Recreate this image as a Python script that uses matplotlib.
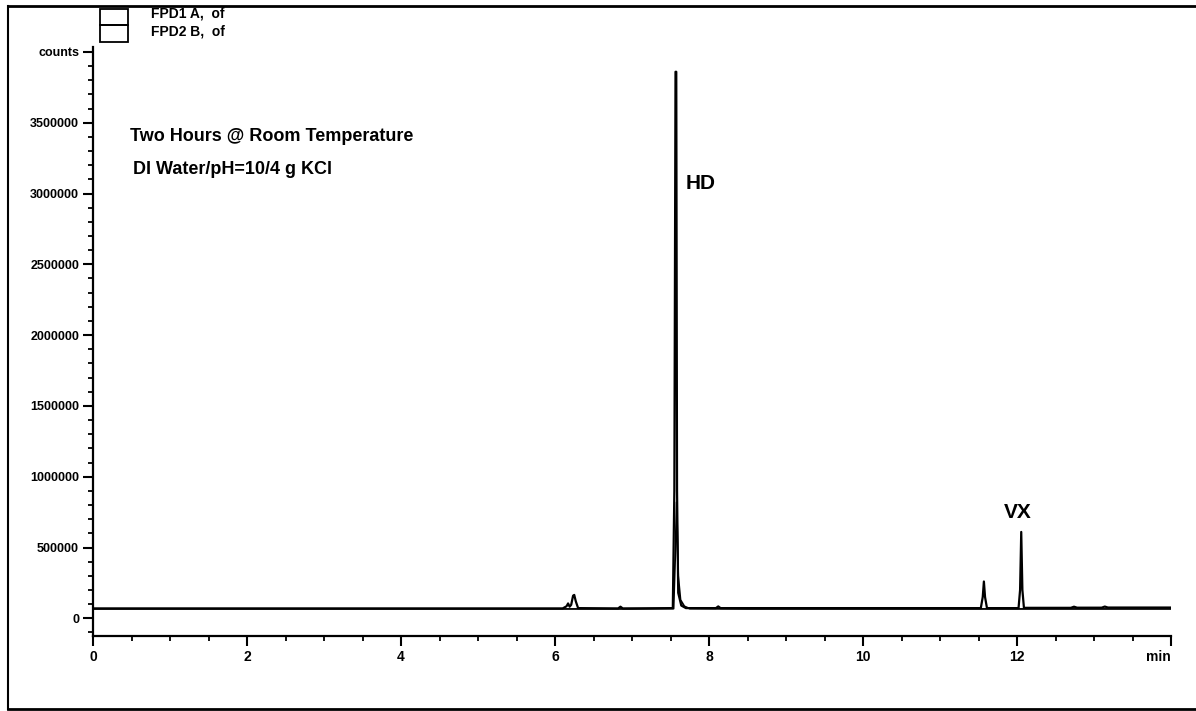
import numpy as np
import matplotlib
matplotlib.use("Agg")
import matplotlib.pyplot as plt
from matplotlib.lines import Line2D
from matplotlib.patches import Rectangle

plt.rcParams['font.family'] = ['Liberation Sans', 'DejaVu Sans']

# FPD1 A trace (time in min, counts)
t_a = [0.00, 2.00, 4.00, 6.10, 6.15, 6.17, 6.19, 6.21, 6.235, 6.25, 6.27, 6.30, 6.82,
       6.85, 6.88, 7.53, 7.55, 7.565, 7.575, 7.585, 7.60, 7.64, 7.70, 8.09, 8.12, 8.15,
       11.53, 11.555, 11.57, 11.585, 11.61, 12.02, 12.04, 12.055, 12.07, 12.09, 12.70,
       12.74, 12.78, 13.10, 13.14, 13.18, 14.00]
c_a = [70000, 70000, 70000, 70000, 85000, 105000, 82000, 95000, 160000, 165000, 120000, 72000, 70000,
       82000, 70000, 72000, 900000, 3860000, 3860000, 900000, 180000, 90000, 72000, 72000, 84000, 72000,
       72000, 150000, 260000, 150000, 72000, 72000, 200000, 610000, 200000, 74000, 74000,
       82000, 75000, 75000, 83000, 76000, 76000]

# FPD2 B trace
t_b = [0.00, 7.00, 7.54, 7.565, 7.58, 7.60, 7.63, 7.68, 7.75, 8.50, 14.00]
c_b = [66000, 66000, 68000, 500000, 820000, 300000, 130000, 85000, 68000, 66000, 66000]

yticks = [0, 500000, 1000000, 1500000, 2000000, 2500000, 3000000, 3500000, 4000000]
ytick_labels = ['0', '500000', '1000000', '1500000', '2000000', '2500000', '3000000', '3500000', 'counts']
xticks = [0, 2, 4, 6, 8, 10, 12, 14]
xtick_labels = ['0', '2', '4', '6', '8', '10', '12', '']

fig = plt.figure(figsize=(11.96, 7.11), dpi=100)
ax = fig.add_axes([93/1196, 1-636/711, (1171-93)/1196, (636-47)/711])

ax.plot(t_b, c_b, color='black', lw=1.3)
ax.plot(t_a, c_a, color='black', lw=1.6)

ax.set_xlim(0, 14)
ax.set_ylim(-125000, 4035000)
ax.set_yticks(yticks)
ax.set_yticklabels(ytick_labels)
ax.set_yticks(np.arange(-100000, 4000001, 100000), minor=True)
ax.set_xticks(xticks)
ax.set_xticklabels(xtick_labels)
ax.set_xticks(np.arange(0, 14.01, 0.5), minor=True)
ax.tick_params(which='major', length=7, width=1.5, labelsize=9, pad=3)
ax.tick_params(axis='x', which='major', labelsize=10)
ax.tick_params(which='minor', length=3.5, width=1.3)
for lab in ax.get_xticklabels() + ax.get_yticklabels():
    lab.set_fontweight('bold')

for s in ['top', 'right']:
    ax.spines[s].set_visible(False)
for s in ['left', 'bottom']:
    ax.spines[s].set_linewidth(1.6)

ax.text(0.48, 3400000, 'Two Hours @ Room Temperature', fontsize=13, fontweight='bold', va='center', ha='left')
ax.text(0.52, 3170000, 'DI Water/pH=10/4 g KCl', fontsize=13, fontweight='bold', va='center', ha='left')
ax.text(7.69, 3070000, 'HD', fontsize=15, fontweight='bold', va='center', ha='left')
ax.text(11.83, 750000, 'VX', fontsize=15, fontweight='bold', va='center', ha='left')
fig.text(1171/1196, 1-657/711, 'min', fontsize=10, fontweight='bold', ha='right', va='center')

# legend boxes above the plot
fig.add_artist(Rectangle((100/1196, 1-25/711), 28/1196, 16/711, fill=False, lw=1.3, transform=fig.transFigure))
fig.add_artist(Rectangle((100/1196, 1-42/711), 28/1196, 17/711, fill=False, lw=1.3, transform=fig.transFigure))
fig.text(151/1196, 1-14/711, 'FPD1 A,  of', fontsize=10, fontweight='bold', va='center')
fig.text(151/1196, 1-32/711, 'FPD2 B,  of', fontsize=10, fontweight='bold', va='center')

# outer frame of the printout
fig.add_artist(Line2D([8/1196, 8/1196], [1-6/711, 1-709/711], color='black', lw=1.5))
fig.add_artist(Line2D([8/1196, 1.0], [1-6/711, 1-6/711], color='black', lw=2))
fig.add_artist(Line2D([8/1196, 1.0], [1-709/711, 1-709/711], color='black', lw=2))

fig.savefig('out.png', dpi=100)
